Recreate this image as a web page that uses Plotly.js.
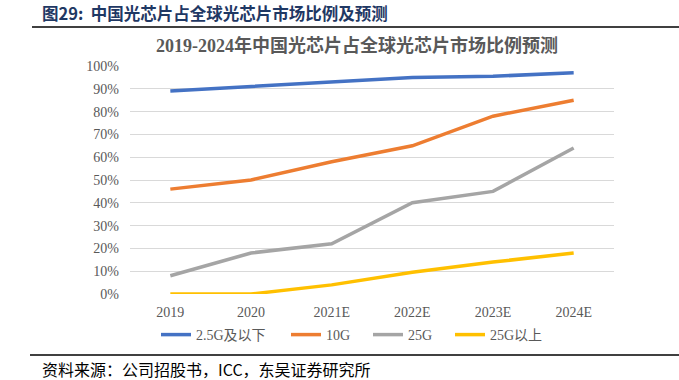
<!DOCTYPE html>
<html><head><meta charset="utf-8">
<script src="https://cdn.plot.ly/plotly-3.0.1.min.js"></script>
<style>body{margin:0;background:#fff}#c{width:679px;height:380px}</style>
</head><body><div id="c"></div>
<script>
const categories = ["2019","2020","2021E","2022E","2023E","2024E"];
const s25Below = [0.89,0.91,0.93,0.95,0.955,0.97];
const s10G = [0.46,0.50,0.58,0.65,0.78,0.85];
const s25G = [0.08,0.18,0.22,0.40,0.45,0.64];
const s25Above = [0.00,0.00,0.04,0.095,0.14,0.18];
const seriesNames = ["2.5G及以下","10G","25G","25G以上"];
const colors = ["#4472C4","#ED7D31","#A5A5A5","#FFC000"];
const yTicks = [0,0.1,0.2,0.3,0.4,0.5,0.6,0.7,0.8,0.9,1.0];
const yTickText = ["0%","10%","20%","30%","40%","50%","60%","70%","80%","90%","100%"];

const serif = "Liberation Serif, Noto Sans CJK SC, serif";
const legendIds = ['legend','legend2','legend3','legend4'];
const data = [s25Below,s10G,s25G,s25Above].map((v,i)=>({
  x: categories, y: v, type:'scatter', mode:'lines', name: seriesNames[i],
  line:{color:colors[i], width:3.5}, legend: legendIds[i]
}));
const L=130,R=614,T=66,B=294;
const px = x => (x-L)/(R-L), py = y => (B-y)/(B-T);
const legX = [156,286,368,450];
const layout = {
  width:679, height:380, margin:{l:L,r:679-R,t:T,b:380-B},
  paper_bgcolor:'#fff', plot_bgcolor:'#fff', showlegend:true,
  font:{family:serif, color:'#595959', size:12},
  xaxis:{type:'category', showgrid:false, zeroline:false, showline:false, ticks:'',
    tickfont:{family:serif,size:14,color:'#595959'}, range:[-0.5,5.5], fixedrange:true,
    ticklabelstandoff:8},
  yaxis:{range:[0,1], tickvals:yTicks, ticktext:yTickText, showgrid:true, gridcolor:'#d9d9d9',
    gridwidth:1, zeroline:false, showline:false, ticks:'', ticklen:0,
    tickfont:{family:serif,size:14,color:'#595959'}, fixedrange:true, ticklabelstandoff:10},
  annotations:[
    {xref:'paper',yref:'paper',x:px(40),y:py(13),xanchor:'left',yanchor:'middle',showarrow:false,
     text:'<b>图29:  中国光芯片占全球光芯片市场比例及预测</b>',
     font:{family:'Noto Sans CJK SC, sans-serif',size:16.5,color:'#1F3864'}},
    {xref:'paper',yref:'paper',x:px(357),y:py(45),xanchor:'center',yanchor:'middle',showarrow:false,
     text:'<b>2019-2024年中国光芯片占全球光芯片市场比例预测</b>',
     font:{family:serif,size:18,color:'#595959'}},
    {xref:'paper',yref:'paper',x:px(40),y:py(369),xanchor:'left',yanchor:'middle',showarrow:false,
     text:'资料来源：公司招股书，ICC，东吴证券研究所',
     font:{family:'Noto Sans CJK SC, serif',size:16,color:'#000'}}
  ],
  shapes:[
    {type:'line',xref:'paper',yref:'paper',x0:px(32),x1:px(679),y0:py(27),y1:py(27),line:{color:'#000',width:1.5}},
    {type:'line',xref:'paper',yref:'paper',x0:px(30),x1:px(679),y0:py(355),y1:py(355),line:{color:'#000',width:1.5}}
  ]
};
legendIds.forEach((id,i)=>{
  layout[id] = {orientation:'h', x:px(legX[i]), xanchor:'left', y:py(335), yanchor:'middle',
    font:{family:serif,size:14,color:'#595959'}, itemwidth:30, bgcolor:'rgba(0,0,0,0)'};
});
Plotly.newPlot('c', data, layout, {displayModeBar:false, staticPlot:true});
</script></body></html>
